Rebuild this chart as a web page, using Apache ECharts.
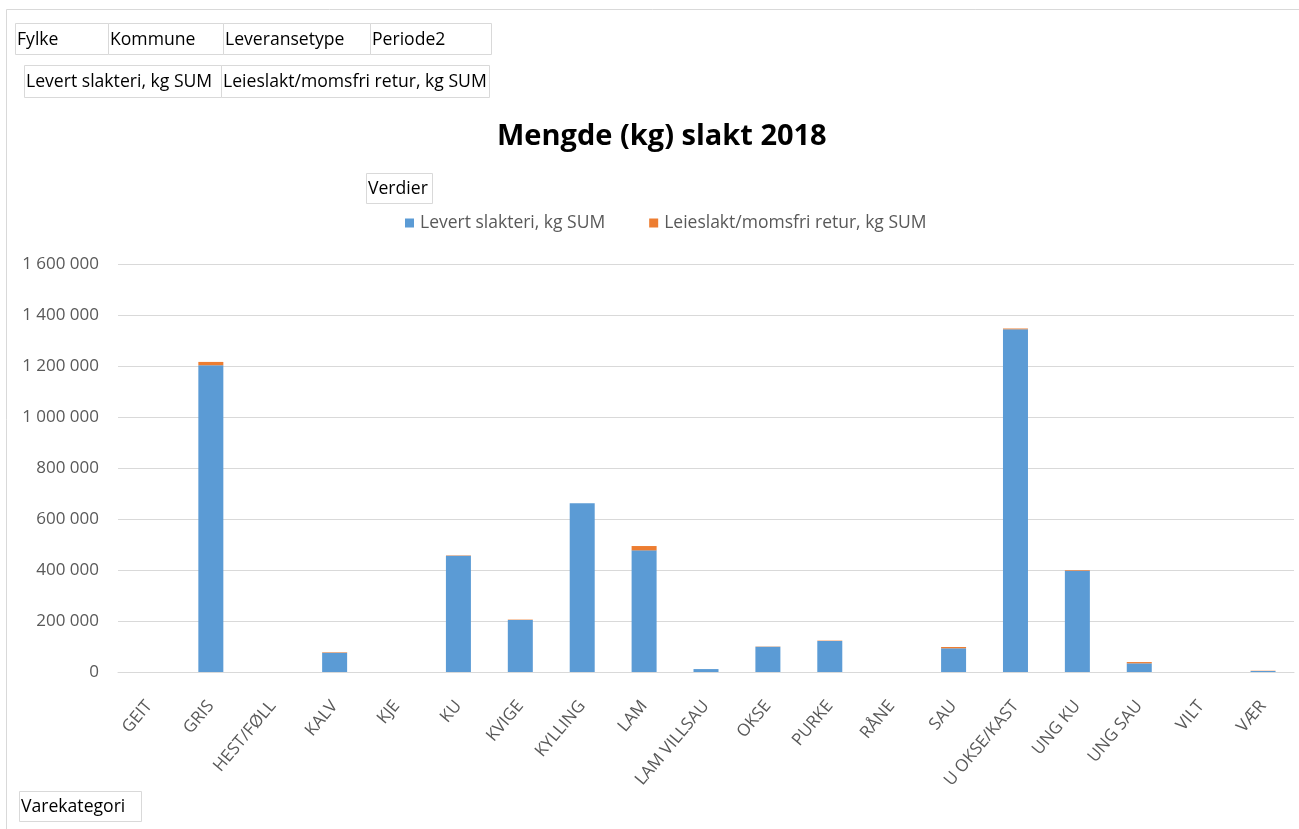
<!DOCTYPE html>
<html>
<head>
<meta charset="utf-8">
<title>Mengde (kg) slakt 2018</title>
<script src="https://cdn.jsdelivr.net/npm/echarts@6/dist/echarts.min.js"></script>
<style>
  html, body { margin: 0; padding: 0; background: #fff; }
  #chart { width: 1299px; height: 829px; }
</style>
</head>
<body>
<div id="chart"></div>
<script>
// Varekategori on the category axis
const categories = ['GEIT', 'GRIS', 'HEST/FØLL', 'KALV', 'KJE', 'KU', 'KVIGE', 'KYLLING', 'LAM',
  'LAM VILLSAU', 'OKSE', 'PURKE', 'RÅNE', 'SAU', 'U OKSE/KAST', 'UNG KU', 'UNG SAU', 'VILT', 'VÆR'];

// Levert slakteri, kg SUM
const levertSlakteri = [0, 1203000, 0, 75500, 0, 456000, 204000, 661500, 477000,
  11500, 99000, 121500, 0, 93000, 1344000, 397000, 34000, 0, 4000];

// Leieslakt/momsfri retur, kg SUM
const leieslakt = [0, 13000, 0, 2000, 0, 1500, 1500, 0, 17000,
  0, 1000, 1500, 0, 5000, 3000, 2500, 5000, 0, 1000];

// Value axis ticks
const yMin = 0;
const yMax = 1600000;
const yStep = 200000;

// Pivot field buttons: [label, x, y, width, height]
const filterFields = [
  ['Fylke', 15, 23, 93, 31],
  ['Kommune', 108, 23, 115, 31],
  ['Leveransetype', 223, 23, 147, 31],
  ['Periode2', 370, 23, 121, 31]
];
const valueFields = [
  ['Levert slakteri, kg SUM', 24, 65, 197, 32],
  ['Leieslakt/momsfri retur, kg SUM', 221, 65, 268, 32]
];
const otherFields = [
  ['Verdier', 366, 173, 66, 30],
  ['Varekategori', 19, 791, 122, 30]
];

const FONT = '"Open Sans", sans-serif';
const AXIS_TEXT = '#595959';
const GRID_LINE = '#d9d9d9';

function groupSpace(n) {
  return String(n).replace(/\B(?=(\d{3})+(?!\d))/g, ' ');
}

function fieldButton([label, x, y, w, h]) {
  return {
    type: 'group',
    x: x, y: y,
    children: [
      { type: 'rect', shape: { x: 0.5, y: 0.5, width: w, height: h },
        style: { fill: '#fff', stroke: GRID_LINE, lineWidth: 1 } },
      { type: 'text', x: 2, y: h / 2 + 1,
        style: { text: label, fill: '#000', font: '17.6px ' + FONT, textVerticalAlign: 'middle' } }
    ]
  };
}

const chart = echarts.init(document.getElementById('chart'), null, { renderer: 'canvas' });

chart.setOption({
  animation: false,
  backgroundColor: '#fff',
  color: ['#5b9bd5', '#ed7d31'],
  title: {
    text: 'Mengde (kg) slakt 2018',
    left: 497,
    top: 122,
    padding: 0,
    textStyle: { fontFamily: FONT, fontSize: 29, fontWeight: 'bold', color: '#000' }
  },
  legend: {
    left: 405,
    top: 214,
    padding: 0,
    itemWidth: 9,
    itemHeight: 9,
    itemGap: 44,
    icon: 'rect',
    textStyle: { fontFamily: FONT, fontSize: 17.5, color: AXIS_TEXT, padding: [0, 0, 0, 1] },
    data: ['Levert slakteri, kg SUM', 'Leieslakt/momsfri retur, kg SUM']
  },
  grid: { left: 118, right: 5, top: 264, bottom: 157, containLabel: false },
  xAxis: {
    type: 'category',
    data: categories,
    axisTick: { show: false },
    axisLine: { lineStyle: { color: GRID_LINE, width: 1 } },
    axisLabel: {
      interval: 0,
      rotate: 50,
      margin: 31,
      color: AXIS_TEXT,
      fontFamily: FONT,
      fontSize: 17
    }
  },
  yAxis: {
    type: 'value',
    min: yMin,
    max: yMax,
    interval: yStep,
    axisLine: { show: false },
    axisTick: { show: false },
    splitLine: { lineStyle: { color: GRID_LINE, width: 1 } },
    axisLabel: {
      margin: 19,
      color: AXIS_TEXT,
      fontFamily: FONT,
      fontSize: 17,
      formatter: v => groupSpace(v)
    }
  },
  series: [
    {
      name: 'Levert slakteri, kg SUM',
      type: 'bar',
      stack: 'sum',
      barWidth: 25,
      data: levertSlakteri
    },
    {
      name: 'Leieslakt/momsfri retur, kg SUM',
      type: 'bar',
      stack: 'sum',
      barWidth: 25,
      data: leieslakt
    }
  ],
  graphic: [
    // chart area frame
    { type: 'polyline', shape: { points: [[6.5, 829], [6.5, 9.5], [1299, 9.5]] },
      style: { stroke: GRID_LINE, lineWidth: 1, fill: null } },
    ...filterFields.map(fieldButton),
    ...valueFields.map(fieldButton),
    ...otherFields.map(fieldButton)
  ]
});
</script>
</body>
</html>
